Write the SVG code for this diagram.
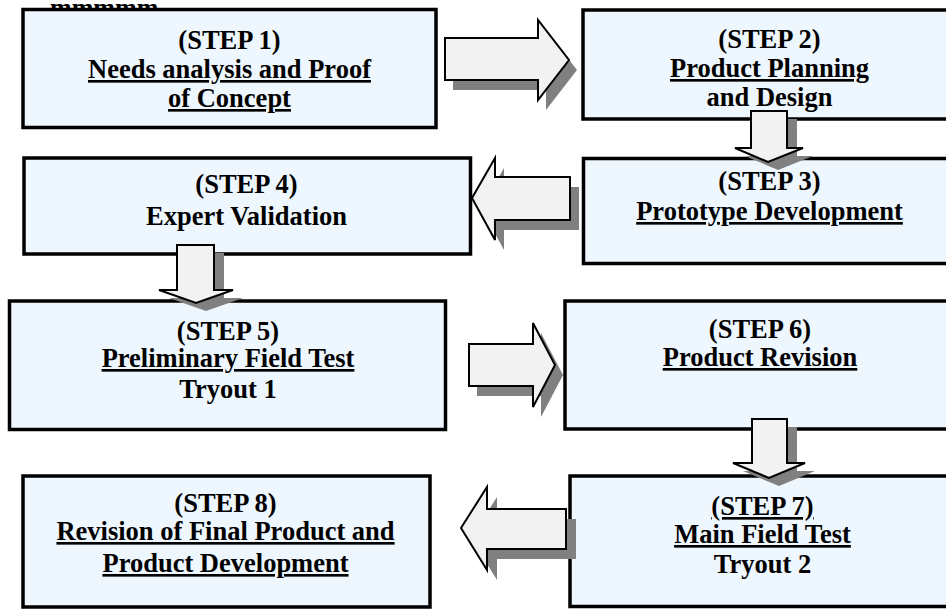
<svg xmlns="http://www.w3.org/2000/svg" width="946" height="609" viewBox="0 0 946 609">
<defs>
<style>
.box{fill:#EEF6FE;stroke:#000;stroke-width:3.5}
.t{font-family:"Liberation Serif","Times New Roman",serif;font-weight:bold;font-size:26.5px;fill:#000;text-anchor:middle}
.u{text-decoration:underline}
.arr{fill:#F2F2F2;stroke:#000;stroke-width:2;stroke-linejoin:miter}
.sh{fill:#808080}
</style>
</defs>
<rect width="946" height="609" fill="#fff"/>
<text x="50" y="16" style="font-family:'Liberation Serif',serif;font-weight:bold;font-size:26px;fill:#000">mmmmm</text>
<g id="step1">
<rect class="box" x="23" y="9.5" width="413" height="118"/>
<text class="t" x="229.5" y="49">(STEP 1)</text>
<text class="t u" x="229.5" y="78">Needs analysis and Proof</text>
<text class="t u" x="229.5" y="107">of Concept</text>
</g>
<g id="step2">
<rect class="box" x="583" y="10" width="380" height="109"/>
<text class="t" x="769.5" y="48">(STEP 2)</text>
<text class="t u" x="769.5" y="77">Product Planning</text>
<text class="t" x="769.5" y="106">and Design</text>
</g>
<g id="step3">
<rect class="box" x="583.5" y="158.5" width="380" height="105"/>
<text class="t" x="769.5" y="190">(STEP 3)</text>
<text class="t u" x="769.5" y="220">Prototype Development</text>
</g>
<g id="step4">
<rect class="box" x="24" y="158" width="446.5" height="96"/>
<text class="t" x="246.5" y="193">(STEP 4)</text>
<text class="t" x="246.5" y="225">Expert Validation</text>
</g>
<g id="step5">
<rect class="box" x="9.5" y="301" width="436" height="128.5"/>
<text class="t" x="228" y="340">(STEP 5)</text>
<text class="t u" x="228" y="367">Preliminary Field Test</text>
<text class="t" x="228" y="398">Tryout 1</text>
</g>
<g id="step6">
<rect class="box" x="565" y="301" width="390" height="128"/>
<text class="t" x="760" y="338">(STEP 6)</text>
<text class="t u" x="760" y="366">Product Revision</text>
</g>
<g id="step7">
<rect class="box" x="570" y="476" width="390" height="130.5"/>
<text class="t u" x="762.5" y="515">(STEP 7)</text>
<text class="t u" x="762.5" y="543">Main Field Test</text>
<text class="t" x="762.5" y="573">Tryout 2</text>
</g>
<g id="step8">
<rect class="box" x="23" y="476" width="407" height="131"/>
<text class="t" x="225.5" y="512">(STEP 8)</text>
<text class="t u" x="225.5" y="540">Revision of Final Product and</text>
<text class="t u" x="225.5" y="572">Product Development</text>
</g>
<g id="connectors">
<g id="a1">
<polygon class="sh" transform="translate(8,10)" points="445,38 538,38 538,20 569,60 538,100 538,80 445,80"/>
<polygon class="arr" points="445,38 538,38 538,20 569,60 538,100 538,80 445,80"/>
</g>
<g id="a2">
<polygon class="sh" transform="translate(10,8)" points="751,111 787,111 787,148 803,148 768,162 735,148 751,148"/>
<polygon class="arr" points="751,111 787,111 787,148 803,148 768,162 735,148 751,148"/>
</g>
<g id="a3">
<polygon class="sh" transform="translate(9,10)" points="570,177 495,177 495,158 472,198 495,240 495,220 570,220"/>
<polygon class="arr" points="570,177 495,177 495,158 472,198 495,240 495,220 570,220"/>
</g>
<g id="a4">
<polygon class="sh" transform="translate(10,8)" points="177,245 214,245 214,290 233,290 196,303 159,290 177,290"/>
<polygon class="arr" points="177,245 214,245 214,290 233,290 196,303 159,290 177,290"/>
</g>
<g id="a5">
<polygon class="sh" transform="translate(8,10)" points="469,344 533,344 533,323 555,365 533,407 533,386 469,386"/>
<polygon class="arr" points="469,344 533,344 533,323 555,365 533,407 533,386 469,386"/>
</g>
<g id="a6">
<polygon class="sh" transform="translate(10,8)" points="752,419 787,419 787,463 805,463 769,478 733,463 752,463"/>
<polygon class="arr" points="752,419 787,419 787,463 805,463 769,478 733,463 752,463"/>
</g>
<g id="a7">
<polygon class="sh" transform="translate(10,10)" points="566,509 487,509 487,487 461,528 487,570 487,549 566,549"/>
<polygon class="arr" points="566,509 487,509 487,487 461,528 487,570 487,549 566,549"/>
</g>
</g>
</svg>
